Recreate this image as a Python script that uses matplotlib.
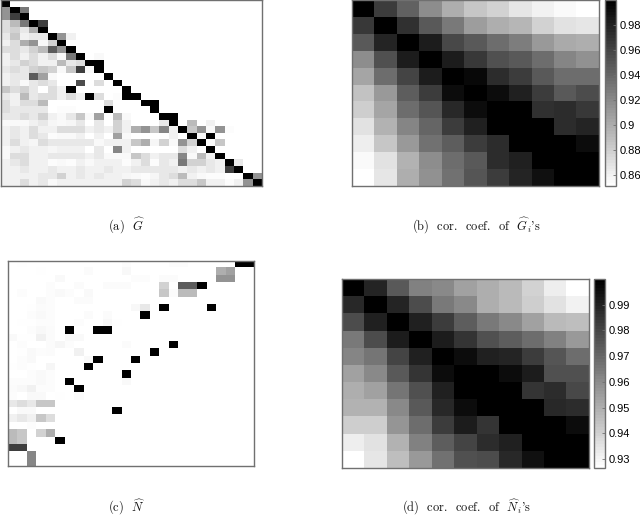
import numpy as np
import matplotlib
matplotlib.use("Agg")
import matplotlib.pyplot as plt
from matplotlib.colors import PowerNorm

plt.rcParams['mathtext.fontset'] = 'cm'

# Panel (a): darkness 0 (white) .. 10 (black); rows are padded on the right with zeros
G_rows = [
 [10],
 [5,10,6],
 [5,8,10],
 [2,3.5,6,10,8],
 [2,2.5,1.5,4,10],
 [1.5,3,1,1.5,1.5,10,5,1],
 [1,2,4,5,.5,2.5,10],
 [2,2,1.5,2.5,3.5,7,5,10],
 [1,2,1,2,1,2,.5,6,10,0,.5],
 [1,1.5,2.5,2,1,1,3.5,1.5,2,10,10],
 [1.5,2,1.5,2.5,3,2.5,.5,3,8,.5,10],
 [1,1.5,1.5,7,4.5,.5,0,0,0,0,0,10],
 [1,1.5,.5,1.5,2,1.5,0,0,7.5,0,2,0,10],
 [3,2,2.5,1.5,0,2,1,10,0,0,0,0,0,10],
 [1.5,1,3.5,1.5,2,2,1,2,1,10,2,0,.3,10,10],
 [2,1,2,2,3.5,0,0,0,0,0,0,2,0,0,0,10,10],
 [2,1.5,1.5,1.5,1.5,0,.3,.3,0,0,0,10,0,0,0,0,10],
 [1.5,1.5,2,1.5,2.5,1,.5,1.5,3,.5,4.5,0,3.5,.5,0,0,0,10,10],
 [.5,.5,.5,1,1.5,.7,.5,.7,1.5,0,1.5,0,2.5,1,0,0,0,1.5,10,0,3.5,0,1],
 [1,1.5,1,2,1,1,2,2,2,1,1.5,1,2.5,1,4,5,3,5.5,1,10,3,5,.5,5,.3],
 [1,1.5,1,2,1.5,.3,.5,.5,1,0,1,0,4.5,.5,0,0,0,0,1,0,10,.5,10],
 [1,2,1,.7,2,1.5,1.5,1.5,1.5,1.5,.5,1,1,1,3,4,.7,2.5,.5,5,2.5,10,.3,3],
 [.5,1,1.5,1,1,.7,1,1,1,0,1.5,0,5.5,1,0,0,0,0,0,2,1,0,10],
 [.5,2,2,1,1,1.5,1.5,1.5,1.5,1,1.5,.5,.5,.5,3,2,1,1.5,1.5,5.5,.5,3.5,1,10],
 [1,1.5,2,1,1,.3,.5,.3,1,.5,1,1,1,.3,1,2,.3,1.5,1,6,2.5,2.5,1.5,1,10,1.5],
 [1,1,1.5,1,1,1.5,1,1,1.5,1,1,1.5,1,1,1.5,1.5,1.5,1.5,1.5,1,1.5,1,1.5,1,8,10],
 [1,1,1,1,1.5,1.5,2.5,1,1.5,1,1.5,1,1,.7,.5,.3,.7,1.5,2,3.5,1,.5,.3,.3,0,0,10,5],
 [1,1,2,1,1.5,.5,1,1,1,1,1,1,1,2.5,2,.5,1,1.5,1,2,2,3,1,1,.3,1,5,10],
]

# Panel (c): darkness 0 (white) .. 10 (black)
N_rows = [
 [0,.2,0,0,0,0,0,0,0,0,0,0,.3,0,0,0,0,.3,.3,0,0,0,0,0,10,10],
 [0,0,0,.2,0,0,0,0,.4,0,0,0,.6,0,0,0,0,0,0,0,0,0,4,4.5],
 [0,0,0,0,0,.5,0,0,0,0,0,0,0,.3,.3,0,.4,.4,0,0,0,0,5,5],
 [0,0,0,0,.3,0,0,.4,0,0,.4,.4,.4,0,0,0,2.5,0,7,7,10],
 [0,.3,0,0,.3,.5,.3,0,.5,0,0,0,0,0,0,0,3,.4,3.5,3.5],
 [0,0,0,.5,.3,0,0,.4,.4],
 [0,0,.2,.4,.3,0,0,0,0,0,0,0,0,.6,1.5,0,10,0,0,0,0,10],
 [0,0,.3,.5,.3,0,0,0,.4,0,.4,0,0,0,10],
 [0,.2,.2,.3,.3,0,0,.3,0,0,.6,.2],
 [0,0,.3,.6,.4,0,10,0,0,10,10],
 [.5,.2,.2,1,.4,0,.5,.5],
 [0,.3,0,0,.4,.7,.3,0,0,0,0,0,.4,0,0,0,0,10],
 [0,.2,.5,.3,.4,0,0,1,0,0,0,0,0,0,0,10],
 [0,.3,.5,0,.1,0,0,0,.5,10,0,0,0,10],
 [.2,.3,.2,0,.7,0,0,0,10],
 [0,0,.3,.5,.3,0,0,0,0,0,0,0,10],
 [.3,.3,.3,.5,.3,0,10,0,0,0,0,0,.5],
 [.4,.6,1,.3,.3,0,0,10],
 [.3,0,.5,.5,0,.2,0,.4],
 [1.5,2,1.5,3,3],
 [0,.5,.5,0,0,0,0,0,0,0,0,10],
 [1,1.5,1,3,2],
 [0,0,.3],
 [3.5,3,0,2.5,4],
 [3.5,3,0,0,0,10],
 [8,8],
 [0,0,5.5],
 [0,0,5.5],
]

# Panel (b): correlation coefficients of G_i
G_corr = [
 [1.000,.963,.943,.918,.899,.884,.878,.866,.860,.854,.851],
 [.967,1.000,.970,.948,.928,.908,.899,.893,.878,.869,.866],
 [.948,.978,1.000,.982,.958,.948,.937,.926,.911,.902,.899],
 [.918,.952,.982,1.000,.982,.967,.952,.948,.937,.923,.914],
 [.903,.936,.960,.982,1.000,.994,.973,.963,.948,.937,.937],
 [.888,.911,.945,.964,.993,1.000,.993,.981,.963,.948,.955],
 [.881,.903,.937,.949,.975,.993,1.000,1.000,.970,.973,.967],
 [.869,.896,.923,.940,.963,.981,1.000,1.000,1.000,.973,.979],
 [.861,.884,.911,.933,.946,.963,.973,1.000,1.000,1.000,.993],
 [.855,.869,.896,.918,.937,.948,.973,.981,1.000,1.000,1.000],
 [.851,.866,.899,.914,.933,.951,.964,.979,.990,1.000,1.000],
]

# Panel (d): correlation coefficients of N_i
N_corr = [
 [1.000,.989,.974,.963,.960,.954,.950,.947,.940,.932,.927],
 [.988,1.000,.989,.978,.965,.960,.950,.947,.941,.935,.931],
 [.978,.990,1.000,.990,.982,.973,.965,.960,.954,.947,.946],
 [.965,.978,.991,1.000,.991,.984,.977,.973,.969,.963,.956],
 [.962,.966,.980,.990,1.000,.996,.990,.989,.982,.975,.969],
 [.954,.960,.974,.984,.996,1.000,1.000,.996,.991,.977,.977],
 [.950,.954,.966,.977,.990,1.000,1.000,1.000,.985,.987,.979],
 [.949,.949,.960,.974,.988,.996,1.000,1.000,1.000,.988,.987],
 [.941,.941,.957,.968,.982,.991,.985,1.000,1.000,1.000,.996],
 [.932,.935,.949,.963,.973,.980,.987,.990,1.000,1.000,1.000],
 [.927,.934,.946,.956,.967,.976,.978,.988,.995,1.000,1.000],
]

G_ticks = [0.86, 0.88, 0.90, 0.92, 0.94, 0.96, 0.98]
N_ticks = [0.93, 0.94, 0.95, 0.96, 0.97, 0.98, 0.99]
captions = [r"(a)  $\widehat{G}$", r"(b)  cor.  coef.  of  $\widehat{G}_i$'s",
            r"(c)  $\widehat{N}$", r"(d)  cor.  coef.  of  $\widehat{N}_i$'s"]

W, H = 640, 515
FRAME = '#707070'


def pad(rows, ncol):
    return np.array([list(r) + [0] * (ncol - len(r)) for r in rows], dtype=float)


def box(left, top, right, bottom):
    return [left / W, 1 - bottom / H, (right - left) / W, (bottom - top) / H]


def frame(ax):
    for s in ax.spines.values():
        s.set_color(FRAME)
        s.set_linewidth(1.0)


fig = plt.figure(figsize=(W / 100, H / 100), dpi=100)


def sparse_panel(data, pos):
    ax = fig.add_axes(box(*pos))
    ax.imshow(data, cmap='gray_r', norm=PowerNorm(1.25, vmin=0, vmax=10), aspect='auto',
              interpolation='nearest')
    ax.set_xticks([])
    ax.set_yticks([])
    frame(ax)


def corr_panel(data, pos, cpos, vmin, ticks):
    ax = fig.add_axes(box(*pos))
    im = ax.imshow(np.array(data), cmap=plt.get_cmap('gray_r', 64), vmin=vmin, vmax=1.0,
                   aspect='auto', interpolation='nearest')
    ax.set_xticks([])
    ax.set_yticks([])
    frame(ax)
    cax = fig.add_axes(box(*cpos))
    cb = fig.colorbar(im, cax=cax)
    cb.set_ticks(ticks)
    cb.set_ticklabels([f"{t:g}" for t in ticks])
    cax.tick_params(direction='in', length=2.5, width=0.6, color=FRAME, pad=2.5, labelsize=8)
    for lab in cax.get_yticklabels():
        lab.set_family('Liberation Sans')
    cb.outline.set_edgecolor(FRAME)
    cb.outline.set_linewidth(1.0)


sparse_panel(pad(G_rows, 28), (1, 0, 262, 186))
corr_panel(G_corr, (352.3, 0, 599.3, 186), (605, 0, 616, 186), 0.851, G_ticks)
sparse_panel(pad(N_rows, 26), (8.3, 261, 253.7, 466.3))
corr_panel(N_corr, (341.7, 279, 588.7, 468), (594, 279, 605, 468), 0.9266, N_ticks)

for cap, x, y in zip(captions, [108, 412, 108, 402], [231, 231, 511.5, 511.5]):
    fig.text(x / W, 1 - y / H, cap, family='cmr10', fontsize=9, color='#111111',
             ha='left', va='baseline')

fig.savefig('out.png', dpi=100)
